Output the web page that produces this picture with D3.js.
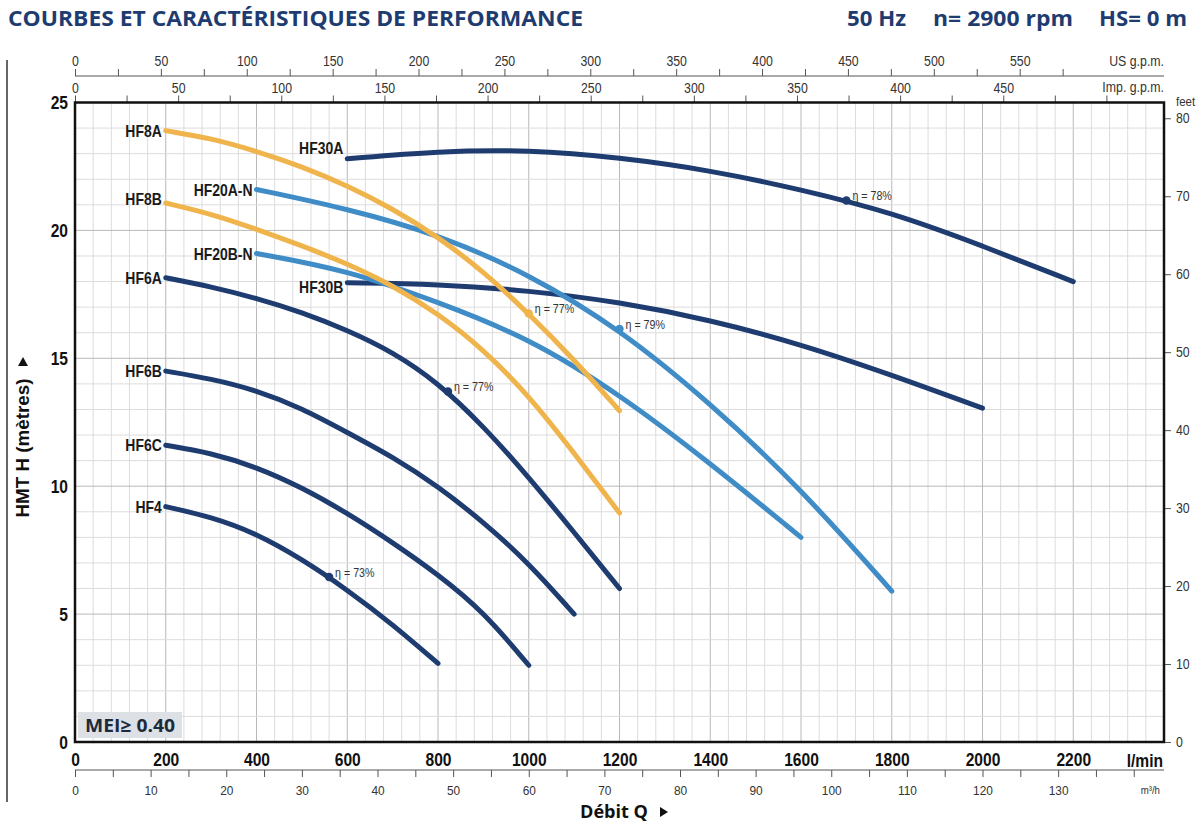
<!DOCTYPE html>
<html>
<head>
<meta charset="utf-8">
<script src="https://cdn.jsdelivr.net/npm/d3@7"></script>
<style>
  body { margin: 0; background: #fff; }
  svg { display: block; }
</style>
</head>
<body>
<div id="chart"></div>
<script>
// ---- data (Q in l/min, H in metres) ----
const lpmTicks = [0, 200, 400, 600, 800, 1000, 1200, 1400, 1600, 1800, 2000, 2200];
const headTicks = [0, 5, 10, 15, 20, 25];
const feetTicks = [0, 10, 20, 30, 40, 50, 60, 70, 80];
const usLabels = [0, 50, 100, 150, 200, 250, 300, 350, 400, 450, 500, 550];
const impLabels = [0, 50, 100, 150, 200, 250, 300, 350, 400, 450];
const m3hLabels = [0, 10, 20, 30, 40, 50, 60, 70, 80, 90, 100, 110, 120, 130];

const hf30a = [[600, 22.8], [800, 23.1], [1000, 23.15], [1200, 22.85], [1400, 22.35], [1600, 21.6], [1800, 20.7], [2000, 19.4], [2200, 18.0]];
const hf30b = [[600, 17.95], [800, 17.9], [1000, 17.65], [1200, 17.2], [1400, 16.5], [1600, 15.55], [1800, 14.35], [2000, 13.05]];
const hf20an = [[400, 21.6], [600, 20.85], [800, 19.85], [1000, 18.3], [1200, 16.15], [1400, 13.25], [1600, 9.9], [1800, 5.9]];
const hf20bn = [[400, 19.1], [600, 18.45], [800, 17.2], [1000, 15.8], [1200, 13.6], [1400, 10.9], [1600, 8.0]];
const hf8a = [[200, 23.9], [300, 23.6], [400, 23.1], [500, 22.5], [600, 21.75], [700, 20.85], [800, 19.75], [900, 18.4], [1000, 16.75], [1100, 14.95], [1200, 12.95]];
const hf8b = [[200, 21.07], [300, 20.65], [400, 20.05], [500, 19.4], [600, 18.7], [700, 17.85], [800, 16.75], [900, 15.35], [1000, 13.55], [1100, 11.3], [1200, 8.95]];
const hf6a = [[200, 18.15], [300, 17.8], [400, 17.35], [500, 16.8], [600, 16.1], [700, 15.25], [800, 14.05], [900, 12.35], [1000, 10.35], [1100, 8.2], [1200, 6.0]];
const hf6b = [[200, 14.5], [300, 14.2], [400, 13.75], [500, 13.05], [600, 12.1], [700, 11.15], [800, 10.0], [900, 8.6], [1000, 7.0], [1100, 5.0]];
const hf6c = [[200, 11.6], [300, 11.3], [400, 10.75], [500, 9.95], [600, 8.95], [700, 7.8], [800, 6.55], [900, 5.1], [1000, 3.0]];
const hf4 = [[200, 9.2], [300, 8.8], [400, 8.15], [500, 7.15], [600, 5.95], [700, 4.6], [800, 3.07]];

const models = ["HF30A", "HF30B", "HF20A-N", "HF20B-N", "HF8A", "HF8B", "HF6A", "HF6B", "HF6C", "HF4"];
const curveData = [hf30a, hf30b, hf20an, hf20bn, hf8a, hf8b, hf6a, hf6b, hf6c, hf4];

// best efficiency points
const bepModels = ["HF30A", "HF20A-N", "HF8A", "HF6A", "HF4"];
const bepQ = [1700, 1200, 1000, 822, 560];
const bepH = [21.17, 16.15, 16.75, 13.7, 6.45];
const bepText = ["η = 78%", "η = 79%", "η = 77%", "η = 77%", "η = 73%"];

// unit conversions
const LPM_PER_USGPM = 3.78541, LPM_PER_IMPGPM = 4.54609, LPM_PER_M3H = 1000 / 60, FT_PER_M = 3.28084;

// ---- layout ----
const W = 1200, H = 826;
const pL = 75, pR = 1164, pT = 102.5, pB = 742;
const qMax = 2400, hMax = 25;

const sans = '"Liberation Sans", Arial, sans-serif';
const humanist = '"Open Sans", "Noto Sans", sans-serif';
const navy = "#1e3c70", blue = "#3f8cc7", orange = "#f0b44c";
const colorOf = m => m.startsWith("HF8") ? orange : (m.startsWith("HF20") ? blue : navy);

// squeeze text horizontally to imitate the condensed face of the original
function condense(sel, k) {
  sel.each(function() {
    const len = this.getComputedTextLength();
    if (len > 0) {
      this.setAttribute("textLength", len * k);
      this.setAttribute("lengthAdjust", "spacingAndGlyphs");
    }
  });
}

const svg = d3.select("#chart").append("svg").attr("width", W).attr("height", H);

const x = d3.scaleLinear().domain([0, qMax]).range([pL, pR]);
const y = d3.scaleLinear().domain([0, hMax]).range([pB, pT]);
const xUS = d3.scaleLinear().domain([0, qMax / LPM_PER_USGPM]).range([pL, pR]);
const xImp = d3.scaleLinear().domain([0, qMax / LPM_PER_IMPGPM]).range([pL, pR]);
const xM3h = d3.scaleLinear().domain([0, qMax / LPM_PER_M3H]).range([pL, pR]);
const yFt = d3.scaleLinear().domain([0, hMax * FT_PER_M]).range([pB, pT]);

// page rule on the far left
svg.append("line").attr("x1", 7).attr("x2", 7).attr("y1", 60).attr("y2", 802)
  .attr("stroke", "#333").attr("stroke-width", 1.5);

// ---- header ----
svg.append("text").attr("x", 8).attr("y", 26)
  .attr("font-family", humanist).attr("font-weight", 700).attr("font-size", 21)
  .attr("fill", navy).attr("textLength", 575).attr("lengthAdjust", "spacingAndGlyphs")
  .text("COURBES ET CARACTÉRISTIQUES DE PERFORMANCE");
[["50 Hz", 847, 59], ["n= 2900 rpm", 933, 140], ["HS= 0 m", 1099, 88]].forEach(([t, tx, tl]) => {
  svg.append("text").attr("x", tx).attr("y", 26)
    .attr("font-family", humanist).attr("font-weight", 700).attr("font-size", 21)
    .attr("fill", navy).attr("textLength", tl).attr("lengthAdjust", "spacingAndGlyphs")
    .text(t);
});

// ---- grid ----
const grid = svg.append("g");
grid.selectAll("line.v").data(d3.range(40, qMax, 40)).join("line")
  .attr("x1", d => x(d)).attr("x2", d => x(d)).attr("y1", pT).attr("y2", pB)
  .attr("stroke", d => d % 200 === 0 ? "#b9b9b9" : "#dcdcdc").attr("stroke-width", 1);
grid.selectAll("line.h").data(d3.range(1, hMax, 1)).join("line")
  .attr("x1", pL).attr("x2", pR).attr("y1", d => y(d)).attr("y2", d => y(d))
  .attr("stroke", d => d % 5 === 0 ? "#b9b9b9" : "#dcdcdc").attr("stroke-width", 1);

// ---- secondary axes ----
function styleAxis(g, size, weight, color, k) {
  g.selectAll("text").attr("font-family", sans).attr("font-size", size)
    .attr("font-weight", weight).attr("fill", color);
  g.selectAll("line").attr("stroke", "#555");
  g.select(".domain").attr("stroke", "#555");
  condense(g.selectAll("text"), k);
}
const fmt = d3.format("d");

// US g.p.m.
const usAxis = svg.append("g").attr("transform", `translate(0,76)`)
  .call(d3.axisTop(xUS).tickValues(d3.range(0, 576, 25))
    .tickFormat(d => usLabels.includes(d) ? fmt(d) : "").tickSize(7).tickSizeOuter(0).tickPadding(3));
styleAxis(usAxis, 14, 400, "#333", 0.88);
usAxis.select(".domain").attr("d", `M${pL},0H${pR}`);

// Imp. g.p.m. (sits on the frame)
const impAxis = svg.append("g").attr("transform", `translate(0,${pT})`)
  .call(d3.axisTop(xImp).tickValues(d3.range(0, 501, 25))
    .tickFormat(d => impLabels.includes(d) ? fmt(d) : "").tickSize(7).tickSizeOuter(0).tickPadding(3));
styleAxis(impAxis, 14, 400, "#333", 0.88);
impAxis.select(".domain").remove();

const unitText = (tx, ty, t, size, anchor) => svg.append("text").attr("x", tx).attr("y", ty)
  .attr("text-anchor", anchor || "end").attr("font-family", sans).attr("font-size", size)
  .attr("fill", "#333").text(t);
condense(unitText(pR, 66, "US g.p.m.", 14), 0.88);
condense(unitText(pR, 92, "Imp. g.p.m.", 14), 0.88);

// m³/h
const m3Axis = svg.append("g").attr("transform", `translate(0,770)`)
  .call(d3.axisBottom(xM3h).tickValues(d3.range(0, 141, 5))
    .tickFormat(d => m3hLabels.includes(d) ? fmt(d) : "").tickSize(7).tickSizeOuter(0).tickPadding(8));
styleAxis(m3Axis, 13.5, 400, "#333", 0.88);
m3Axis.select(".domain").attr("d", `M${pL},0H${pR}`);
condense(unitText(1160, 794, "m³/h", 11), 0.88);

// feet
const ftAxis = svg.append("g").attr("transform", `translate(${pR},0)`)
  .call(d3.axisRight(yFt).tickValues(feetTicks).tickSize(7).tickSizeOuter(0).tickPadding(5));
styleAxis(ftAxis, 14, 400, "#333", 0.88);
ftAxis.select(".domain").remove();
condense(unitText(1176, 106, "feet", 13, "start"), 0.88);

// ---- main axes ----
const qAxis = svg.append("g").attr("transform", `translate(0,${pB})`)
  .call(d3.axisBottom(x).tickValues(lpmTicks).tickFormat(fmt).tickSize(0).tickPadding(11));
styleAxis(qAxis, 19, 700, "#111", 0.82);
qAxis.select(".domain").remove();
const lmin = svg.append("text").attr("x", 1163).attr("y", 767).attr("text-anchor", "end")
  .attr("font-family", sans).attr("font-size", 19).attr("font-weight", 700).attr("fill", "#111")
  .text("l/min");
condense(lmin, 0.82);

const hAxis = svg.append("g").attr("transform", `translate(${pL},0)`)
  .call(d3.axisLeft(y).tickValues(headTicks).tickSize(0).tickPadding(7));
styleAxis(hAxis, 19, 700, "#111", 0.82);
hAxis.select(".domain").remove();

// axis titles
svg.append("text").attr("transform", "translate(29,448) rotate(-90)").attr("text-anchor", "middle")
  .attr("font-family", sans).attr("font-size", 19).attr("font-weight", 700).attr("fill", "#111")
  .attr("textLength", 139).attr("lengthAdjust", "spacingAndGlyphs")
  .text("HMT H (mètres)");
svg.append("path").attr("d", "M18,366 L28,366 L23,357 Z").attr("fill", "#111");

svg.append("text").attr("x", 580).attr("y", 818)
  .attr("font-family", humanist).attr("font-size", 18).attr("font-weight", 700).attr("fill", "#111")
  .attr("textLength", 68).attr("lengthAdjust", "spacingAndGlyphs")
  .text("Débit Q");
svg.append("path").attr("d", "M660,807 L660,817 L668,812 Z").attr("fill", "#111");

// ---- MEI badge ----
svg.append("rect").attr("x", 78).attr("y", 712).attr("width", 104).attr("height", 26).attr("fill", "#dde1e6");
svg.append("text").attr("x", 85).attr("y", 732)
  .attr("font-family", humanist).attr("font-size", 18).attr("font-weight", 700).attr("fill", "#1c2a3c")
  .attr("textLength", 90).attr("lengthAdjust", "spacingAndGlyphs")
  .text("MEI≥ 0.40");

// ---- curves ----
const line = d3.line().x(d => x(d[0])).y(d => y(d[1])).curve(d3.curveBasis);
const curvesG = svg.append("g");
models.forEach((m, i) => {
  curvesG.append("path").datum(curveData[i])
    .attr("d", line).attr("fill", "none")
    .attr("stroke", colorOf(m)).attr("stroke-width", 5).attr("stroke-linecap", "round");
});

// model labels (at curve starts)
const labelDy = { "HF30A": -11, "HF30B": 4, "HF8B": -4 };
models.forEach((m, i) => {
  const p = curveData[i][0];
  const t = svg.append("text").attr("x", x(p[0]) - 4).attr("y", y(p[1]) + (labelDy[m] || 0))
    .attr("dy", "0.36em").attr("text-anchor", "end")
    .attr("font-family", sans).attr("font-size", 17).attr("font-weight", 700).attr("fill", "#1a1a1a")
    .text(m);
  condense(t, 0.82);
});

// best efficiency markers
bepModels.forEach((m, i) => {
  const cx = x(bepQ[i]), cy = y(bepH[i]);
  svg.append("circle").attr("cx", cx).attr("cy", cy).attr("r", 4.2).attr("fill", colorOf(m));
  const t = svg.append("text").attr("x", cx + 6).attr("y", cy - 5).attr("dy", "0.36em")
    .attr("font-family", sans).attr("font-size", 13).attr("fill", "#333")
    .text(bepText[i]);
  condense(t, 0.82);
});

// ---- frame ----
svg.append("rect").attr("x", pL).attr("y", pT).attr("width", pR - pL).attr("height", pB - pT)
  .attr("fill", "none").attr("stroke", "#111").attr("stroke-width", 2.5);
</script>
</body>
</html>
